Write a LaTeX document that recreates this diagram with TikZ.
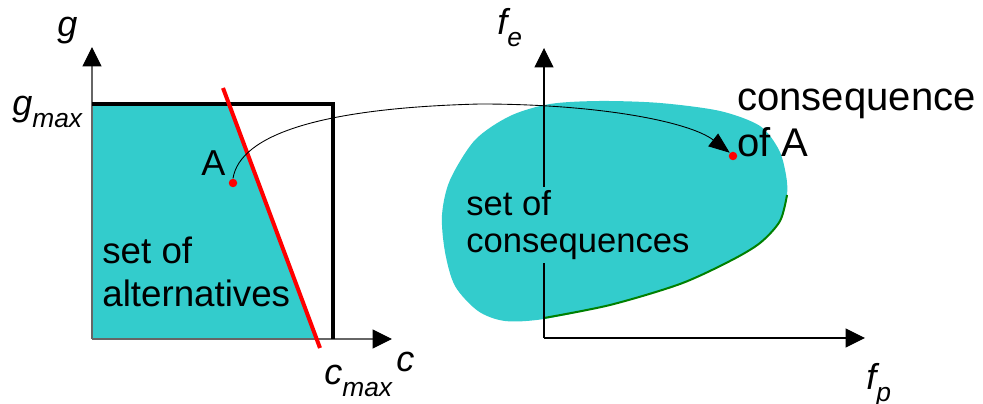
\documentclass[tikz,border=0pt]{standalone}
\usepackage{fontspec}
\setmainfont{Liberation Sans}
\usetikzlibrary{arrows.meta}
\definecolor{setcyan}{RGB}{51,204,204}
\definecolor{frontgreen}{RGB}{0,128,0}
\newcommand{\lowsub}[1]{\raisebox{-6.8pt}{\fontsize{15}{16}\selectfont\itshape #1}}

\begin{document}
\begin{tikzpicture}[x=0.02cm, y=-0.02cm,
    axis/.style={-{Triangle[length=0.39cm, width=0.38cm, color=black]}, line width=0.6pt},
    lbl/.style={inner sep=0, anchor=base west, font=\fontsize{20.5}{24}\selectfont\itshape},
    txt/.style={inner sep=0, anchor=base west, align=left},
    dot/.style={circle, fill=red, inner sep=0, minimum size=0.17cm}
  ]
  \useasboundingbox (0,0) rectangle (983,404);

  % alternatives (decision space)
  \coordinate (o1) at (92,339);
  \coordinate (gtip) at (92,47);
  \coordinate (ctip) at (392,339);
  \fill[setcyan] (92,106) -- (229.7,106) -- (316.6,339) -- (o1) -- cycle;
  \draw[axis, draw=black!60] (o1) -- (gtip);
  \draw[axis, draw=black!60] (o1) -- (ctip);
  \draw[line width=0.08cm] (92,104) -- (333,104) -- (333,339);
  \draw[red, line width=0.08cm] (223,88) -- (320,348);

  \node[txt, font=\fontsize{20.9}{25}\selectfont] (alt) at (102,307) {set of\\alternatives};
  \node[lbl] (g) at (57,37) {g};
  \node[lbl] (gmax) at (12,116) {g\lowsub{max}};
  \node[lbl] (c) at (396,372) {c};
  \node[lbl] (cmax) at (324,385) {c\lowsub{max}};
  \node[lbl, font=\fontsize{20.5}{24}\selectfont] (a) at (201,176) {A};
  \node[dot] (dA) at (233,183) {};

  % consequences (objective space)
  \coordinate (o2) at (544,338);
  \coordinate (fetip) at (544,48);
  \coordinate (fptip) at (865,338);
  \fill[setcyan] plot[smooth cycle] coordinates {(544,319) (505,321) (478,311) (455,286)
    (445,252) (442,215) (450,180) (475,140) (510,116) (550,104) (600,101) (660,103)
    (720,111) (760,126) (779,150) (786,175) (787,195) (780,221) (760,243) (730,261)
    (680,284) (610,305)};
  \draw[frontgreen, line width=0.04cm] plot[smooth] coordinates {(544,318) (610,305)
    (680,284) (730,261) (760,243) (780,221) (787,195)};
  \draw[axis] (o2) -- (fetip);
  \draw[axis] (o2) -- (fptip);

  \node[txt, font=\fontsize{19.7}{21.6}\selectfont, fill=setcyan, inner ysep=1.5pt] (cons)
    at (466,253) {set of\\consequences};
  \node[txt, font=\fontsize{22.8}{26.7}\selectfont] (conA) at (737,157) {consequence\\of A};
  \node[lbl] (fe) at (497,35) {f\lowsub{e}};
  \node[lbl] (fp) at (866,390) {f\lowsub{p}};
  \node[dot] (dB) at (733,156) {};

  % mapping of A
  \coordinate (peak) at (480,104);
  \draw[-{Triangle[length=0.42cm, width=0.32cm]}, line width=0.5pt] (dA.north)
    .. controls (240,135) and (320,108) .. (peak)
    .. controls (600,104) and (690,122) .. (dB.north west);
\end{tikzpicture}
\end{document}
